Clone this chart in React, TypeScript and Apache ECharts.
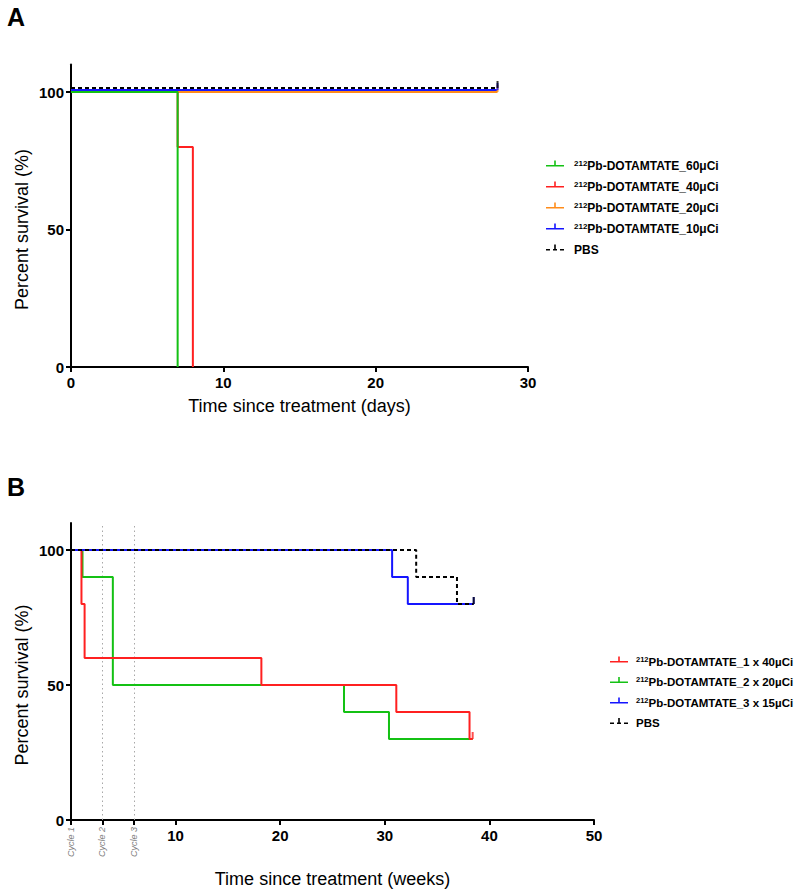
import React, { useEffect, useRef } from "react";
import * as echarts from "echarts";

// ---------- Panel A (days) ----------
const aNames = [
  "212Pb-DOTAMTATE_60μCi",
  "212Pb-DOTAMTATE_40μCi",
  "212Pb-DOTAMTATE_20μCi",
  "212Pb-DOTAMTATE_10μCi",
  "PBS",
];
const aColors = ["#14C114", "#FF2020", "#FF8C1A", "#1515FF", "#000000"];
const a60 = [[0, 100], [7, 0]];
const a40 = [[0, 100], [7, 80], [8, 0]];
const a20 = [[0, 100], [28, 100]];
const a10 = [[0, 100.7], [28, 100.7]];
const aPBS = [[0, 101.45], [28, 101.45]];
const aCensor20 = [[28, 100]];
const aCensor10 = [[28, 100.7]];
const aCensorPBS = [[28, 101.45]];
const aXTicks = [0, 10, 20, 30];
const yTicks = [0, 50, 100];

// ---------- Panel B (weeks) ----------
const bNames = [
  "212Pb-DOTAMTATE_1 x 40µCi",
  "212Pb-DOTAMTATE_2 x 20µCi",
  "212Pb-DOTAMTATE_3 x 15µCi",
  "PBS",
];
const bColors = ["#FF2020", "#14C114", "#1515FF", "#000000"];
const b1x40 = [[0, 100], [1.0, 80], [1.3, 60], [18.2, 50], [31.1, 40], [38.1, 30], [38.4, 30]];
const b2x20 = [[0, 100], [1.1, 90], [4.0, 50], [26.1, 40], [30.4, 30], [38.4, 30]];
const b3x15 = [[0, 100], [30.7, 90], [32.2, 80], [38.5, 80]];
const bPBS = [[0, 100], [33.0, 90], [36.9, 80], [38.5, 80]];
const bCensor1x40 = [[38.4, 30]];
const bCensor3x15 = [[38.5, 80]];
const bCensorPBS = [[38.5, 80]];
const bXTicks = [0, 3, 6, 10, 20, 30, 40, 50];
const bXLabels = [10, 20, 30, 40, 50];
const cycleWeeks = [0, 3, 6];
const cycleLabels = ["Cycle 1", "Cycle 2", "Cycle 3"];

const FONT = "Liberation Sans";

const solidIcon =
  "path://M0,6H18V7.6H0Z M8.2,1.5H9.8V6H8.2Z M0,13L0.01,13Z M0,0L0.01,0Z";
const dashIcon =
  "path://M0,6H4V7.6H0Z M7,6H11V7.6H7Z M14,6H18V7.6H14Z M8.2,1.5H9.8V6H8.2Z M0,13L0.01,13Z M0,0L0.01,0Z";

function xAxisCfg(grid: number, max: number, ticks: number[], labels: number[], name: string, gap: number) {
  return {
    gridIndex: grid,
    type: "value",
    min: 0,
    max,
    interval: 10,
    name,
    nameLocation: "middle",
    nameGap: gap,
    nameTextStyle: { fontFamily: FONT, fontSize: 18, color: "#000" },
    axisLine: { show: true, onZero: false, lineStyle: { color: "#000", width: 2 } },
    axisTick: { show: true, length: 5, lineStyle: { color: "#000", width: 2 }, customValues: ticks },
    axisLabel: {
      customValues: labels,
      fontFamily: FONT,
      fontSize: 15,
      fontWeight: "bold",
      color: "#000",
      margin: 8,
    },
    splitLine: { show: false },
  };
}

function yAxisCfg(grid: number) {
  return {
    gridIndex: grid,
    type: "value",
    min: 0,
    max: 110,
    interval: 50,
    axisLine: { show: true, onZero: false, lineStyle: { color: "#000", width: 2 } },
    axisTick: { show: true, length: 5, lineStyle: { color: "#000", width: 2 }, customValues: yTicks },
    axisLabel: {
      customValues: yTicks,
      fontFamily: FONT,
      fontSize: 15,
      fontWeight: "bold",
      color: "#000",
      margin: 7,
    },
    splitLine: { show: false },
  };
}

function km(name: string, data: number[][], color: string, axis: number, z: number, dashed = false, extra: any = {}) {
  return {
    type: "line",
    name,
    xAxisIndex: axis,
    yAxisIndex: axis,
    data,
    step: "end",
    symbol: "none",
    color,
    z,
    lineStyle: { color, width: 2, type: dashed ? [4, 3] : "solid" },
    silent: true,
    ...extra,
  };
}

function censor(id: string, data: number[][], color: string, axis: number) {
  return {
    type: "scatter",
    name: id,
    xAxisIndex: axis,
    yAxisIndex: axis,
    data,
    symbol: "rect",
    symbolSize: [2, 7],
    symbolOffset: [0, -3.5],
    itemStyle: { color },
    silent: true,
    z: 8,
  };
}

function richStyles(size: number) {
  return {
    b: { fontFamily: FONT, fontSize: size, fontWeight: "bold", color: "#000", lineHeight: 13 },
    s: { fontFamily: FONT, fontSize: size - 4, fontWeight: "bold", color: "#000", lineHeight: 7, verticalAlign: "top" },
  };
}

function legendFormatter(name: string) {
  if (name === "PBS") return "{b|PBS}";
  return "{s|212}{b|" + name.slice(3) + "}";
}

export default function App() {
  const ref = useRef<HTMLDivElement>(null);

  useEffect(() => {
    if (!ref.current) return;
    const chart = echarts.init(ref.current, null, { renderer: "svg" });

    const option: any = {
      animation: false,
      backgroundColor: "#fff",
      grid: [
        { left: 71, top: 64.5, width: 457, height: 302.5 },
        { left: 71, top: 523, width: 523, height: 297 },
      ],
      xAxis: [
        xAxisCfg(0, 30, aXTicks, aXTicks, "Time since treatment (days)", 30),
        xAxisCfg(1, 50, bXTicks, bXLabels, "Time since treatment (weeks)", 50),
      ],
      yAxis: [yAxisCfg(0), yAxisCfg(1)],
      legend: [
        {
          left: 541,
          top: 154,
          orient: "vertical",
          itemWidth: 18,
          itemHeight: 13,
          itemGap: 8,
          selectedMode: false,
          itemStyle: { borderWidth: 0 },
          data: aNames.map((n, i) => ({ name: n, icon: i === 4 ? dashIcon : solidIcon })),
          formatter: legendFormatter,
          textStyle: { padding: [0, 0, 0, 5], rich: richStyles(12) },
        },
        {
          left: 605,
          top: 650,
          orient: "vertical",
          itemWidth: 18,
          itemHeight: 13,
          itemGap: 7.5,
          selectedMode: false,
          itemStyle: { borderWidth: 0 },
          data: bNames.map((n, i) => ({ name: n, icon: i === 3 ? dashIcon : solidIcon })),
          formatter: legendFormatter,
          textStyle: { padding: [0, 0, 0, 3], rich: richStyles(11.5) },
        },
      ],
      series: [
        km(aNames[2], a20, aColors[2], 0, 2),
        km(aNames[1], a40, aColors[1], 0, 3),
        km(aNames[0], a60, aColors[0], 0, 4),
        km(aNames[3], a10, aColors[3], 0, 5),
        km(aNames[4], aPBS, aColors[4], 0, 6, true),
        censor("cA20", aCensor20, aColors[2], 0),
        censor("cA10", aCensor10, aColors[3], 0),
        censor("cAPBS", aCensorPBS, aColors[4], 0),
        km(bNames[1], b2x20, bColors[1], 1, 3),
        km(bNames[0], b1x40, bColors[0], 1, 4),
        km(bNames[2], b3x15, bColors[2], 1, 5),
        km(bNames[3], bPBS, bColors[3], 1, 6, true, {
          markLine: {
            silent: true,
            symbol: "none",
            label: { show: false },
            lineStyle: { color: "#a8a8a8", width: 1, type: [1.5, 3] },
            // cycle 1 lies on the y axis itself, so only cycles 2 and 3 get a visible guide
            data: cycleWeeks.filter((w) => w > 0).map((w) => ({ xAxis: w })),
            z: 1,
          },
        }),
        censor("cB1", bCensor1x40, bColors[0], 1),
        censor("cB3", bCensor3x15, bColors[2], 1),
        censor("cBPBS", bCensorPBS, bColors[3], 1),
      ],
    };
    chart.setOption(option);

    const yA = (chart.convertToPixel({ yAxisIndex: 0 }, 0) + chart.convertToPixel({ yAxisIndex: 0 }, 100)) / 2;
    const yB = (chart.convertToPixel({ yAxisIndex: 1 }, 0) + chart.convertToPixel({ yAxisIndex: 1 }, 100)) / 2;
    const yB0 = chart.convertToPixel({ yAxisIndex: 1 }, 0);

    const graphics: any[] = [
      {
        type: "text",
        x: 7,
        y: 17,
        style: { text: "A", font: "bold 25px " + FONT, fill: "#000", textAlign: "left", textVerticalAlign: "middle" },
      },
      {
        type: "text",
        x: 7,
        y: 487,
        style: { text: "B", font: "bold 25px " + FONT, fill: "#000", textAlign: "left", textVerticalAlign: "middle" },
      },
      {
        type: "text",
        x: 22,
        y: yA,
        rotation: Math.PI / 2,
        style: { text: "Percent survival (%)", font: "18px " + FONT, fill: "#000", textAlign: "center", textVerticalAlign: "middle" },
      },
      {
        type: "text",
        x: 22,
        y: yB,
        rotation: Math.PI / 2,
        style: { text: "Percent survival (%)", font: "18px " + FONT, fill: "#000", textAlign: "center", textVerticalAlign: "middle" },
      },
    ];
    cycleWeeks.forEach((w, i) => {
      const px = chart.convertToPixel({ xAxisIndex: 1 }, w);
      graphics.push({
        type: "text",
        x: px,
        y: yB0 + 7,
        rotation: Math.PI / 2,
        style: {
          text: cycleLabels[i],
          font: "italic 9px " + FONT,
          fill: "#808080",
          textAlign: "right",
          textVerticalAlign: "middle",
        },
      });
    });
    chart.setOption({ graphic: graphics });

    return () => chart.dispose();
  }, []);

  return (
    <div
      ref={ref}
      style={{ position: "absolute", left: 0, top: 0, width: 800, height: 893, background: "#fff" }}
    />
  );
}
